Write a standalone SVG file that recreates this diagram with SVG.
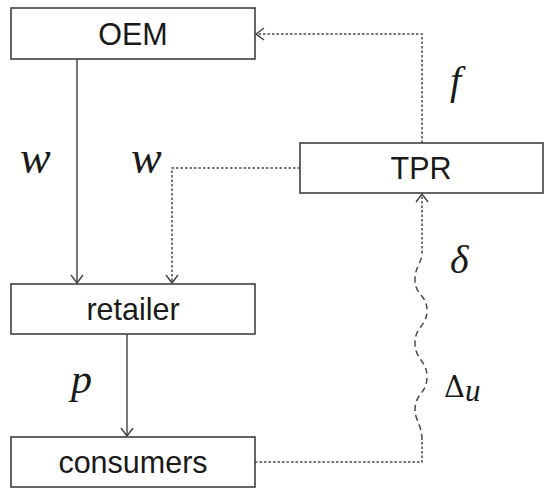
<svg xmlns="http://www.w3.org/2000/svg" width="550" height="494" viewBox="0 0 550 494">
<style>
.box{fill:#fff;stroke:#404040;stroke-width:1.6}
.lbl{font-family:"Liberation Sans",Arial,sans-serif;font-size:30.5px;fill:#1a1a1a;text-anchor:middle}
.math{font-family:"Liberation Serif","Times New Roman",serif;font-style:italic;font-size:40px;fill:#1a1a1a}
.solid{fill:none;stroke:#404040;stroke-width:1.4}
.dot{fill:none;stroke:#4a4a4a;stroke-width:1.5;stroke-dasharray:2.5 2}
.wave{fill:none;stroke:#4a4a4a;stroke-width:1.5;stroke-dasharray:6 4}
</style>
<defs>
<marker id="arr" markerUnits="userSpaceOnUse" viewBox="0 0 10 14" markerWidth="10" markerHeight="14" refX="9" refY="7" orient="auto">
<path d="M1,1 L9,7 L1,13" fill="none" stroke="#404040" stroke-width="1.4"/>
</marker>
</defs>
<g id="connectors">
<path class="solid" d="M77,59 V283" marker-end="url(#arr)"/>
<path class="solid" d="M127,334 V436" marker-end="url(#arr)"/>
<path class="dot" d="M300,168 H172 V283" marker-end="url(#arr)"/>
<path class="dot" d="M422,143 V34 H256" marker-end="url(#arr)"/>
<path class="dot" d="M255,462 H422 V440"/>
<path class="wave" d="M422,440 C422,425 415,420 415,410 C415,393 427,394 427,377 C427,360 415,360 415,343 C415,326 427,327 427,310 C427,295 415,295 415,280 C415,266 422,263 422,253"/>
<path class="dot" d="M422,253 V194" marker-end="url(#arr)"/>
</g>
<g id="oem"><rect class="box" x="11" y="8" width="244" height="51"/><text class="lbl" x="133" y="45">OEM</text></g>
<g id="tpr"><rect class="box" x="300" y="143" width="243" height="50"/><text class="lbl" x="421" y="179">TPR</text></g>
<g id="retailer"><rect class="box" x="11" y="284" width="244" height="50"/><text class="lbl" x="133" y="320">retailer</text></g>
<g id="consumers"><rect class="box" x="11" y="437" width="244" height="50"/><text class="lbl" x="133" y="473">consumers</text></g>
<g id="labels">
<text class="math" x="20" y="173" style="font-size:46px">w</text>
<text class="math" x="131" y="173" style="font-size:46px">w</text>
<text class="math" x="450" y="94">f</text>
<text class="math" x="450" y="273">δ</text>
<text class="math" x="71" y="393" style="font-size:42px">p</text>
<text x="444" y="397" style="font-family:'DejaVu Serif','Liberation Serif',serif;font-size:29px;fill:#1a1a1a">Δ<tspan dy="4" style="font-family:'Liberation Serif',serif;font-style:italic;font-size:31px">u</tspan></text>
</g>
</svg>
